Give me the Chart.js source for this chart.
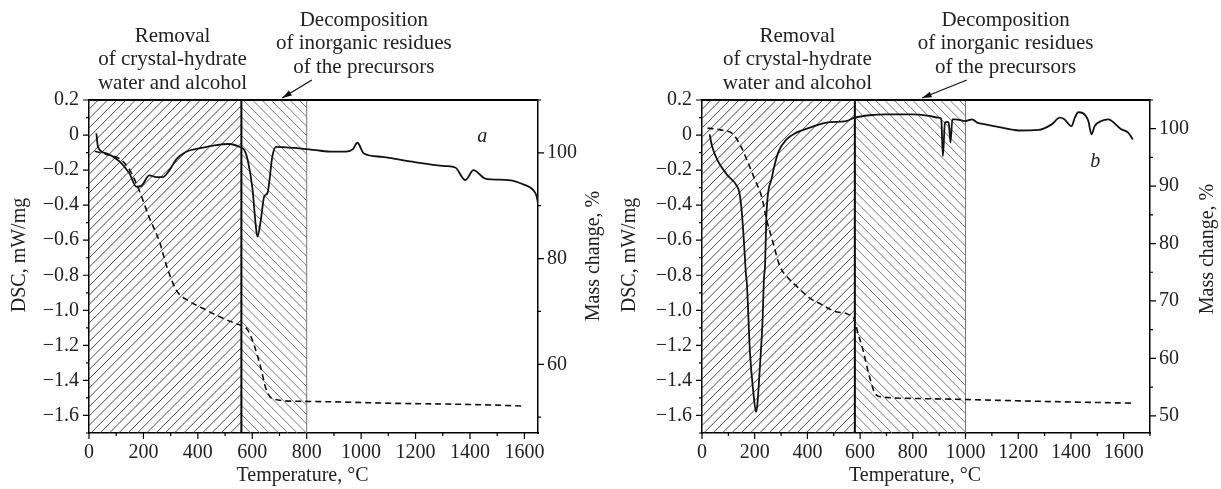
<!DOCTYPE html>
<html>
<head>
<meta charset="utf-8">
<script src="https://cdn.jsdelivr.net/npm/chart.js@4.4.1/dist/chart.umd.min.js"></script>
<style>
  body { margin: 0; background: #fff; }
  #wrap { position: relative; width: 1221px; height: 489px; }
  canvas { position: absolute; top: 0; }
</style>
</head>
<body>
<div id="wrap">
  <canvas id="grafA" width="610" height="489" style="left:0"></canvas>
  <canvas id="grafB" width="611" height="489" style="left:610px"></canvas>
</div>
<script>
// panel a: DSC (solid) and mass (dashed)
const dscTempA = [27, 33, 64, 112, 149, 174, 192, 222, 247, 271, 296, 320, 357, 406, 467, 516, 552, 571, 583, 601, 613, 619, 631, 644, 656, 674, 687, 772, 833, 894, 943, 970, 986, 1010, 1077, 1126, 1187, 1310, 1346, 1383, 1413, 1456, 1542, 1603, 1633, 1645, 1650];
const dscA = [0.01, -0.067, -0.105, -0.15, -0.22, -0.295, -0.29, -0.23, -0.24, -0.24, -0.2, -0.14, -0.095, -0.076, -0.057, -0.051, -0.067, -0.086, -0.14, -0.31, -0.52, -0.58, -0.49, -0.35, -0.33, -0.12, -0.067, -0.076, -0.086, -0.095, -0.095, -0.08, -0.044, -0.105, -0.124, -0.136, -0.152, -0.177, -0.185, -0.257, -0.2, -0.248, -0.257, -0.286, -0.314, -0.35, -0.39];
const massTempA = [21, 64, 112, 149, 186, 222, 259, 284, 320, 369, 418, 467, 540, 558, 583, 607, 632, 650, 674, 772, 894, 1139, 1400, 1603];
const massA = [100.3, 99.7, 98.9, 96.8, 92.7, 87.7, 83.2, 78.8, 74.1, 71.9, 70.6, 69.3, 67.7, 67.4, 66.5, 63.6, 59.2, 55.4, 53.5, 53.0, 52.9, 52.6, 52.4, 52.1];

// panel b
const dscTempB = [29, 38, 57, 94, 132, 142, 151, 160, 167, 170, 182, 195, 205, 210, 219, 230, 235, 239, 245, 264, 289, 321, 358, 409, 472, 547, 579, 635, 698, 798, 862, 899, 908, 914, 922, 930, 936, 943, 950, 962, 1000, 1025, 1044, 1075, 1138, 1201, 1277, 1327, 1358, 1375, 1402, 1415, 1428, 1445, 1466, 1478, 1490, 1515, 1541, 1591, 1617, 1635];
const dscB = [0.004, -0.063, -0.139, -0.225, -0.29, -0.33, -0.44, -0.63, -0.8, -0.84, -1.24, -1.47, -1.58, -1.54, -1.34, -1.05, -0.82, -0.75, -0.44, -0.25, -0.1, -0.025, 0.014, 0.042, 0.071, 0.08, 0.099, 0.113, 0.118, 0.118, 0.109, 0.099, 0.09, -0.12, 0.071, 0.075, 0.07, -0.043, 0.09, 0.09, 0.08, 0.09, 0.071, 0.061, 0.042, 0.026, 0.029, 0.061, 0.099, 0.09, 0.051, 0.1, 0.13, 0.125, 0.08, 0.004, 0.051, 0.08, 0.09, 0.033, 0.014, -0.025];
const massTempB = [21, 69, 119, 151, 170, 201, 226, 245, 270, 295, 327, 365, 409, 453, 503, 553, 578, 591, 610, 635, 660, 698, 824, 949, 1201, 1400, 1629];
const massB = [100.1, 99.8, 99.0, 96.6, 94.6, 91.1, 88.2, 84.2, 80.1, 76.1, 74.0, 72.3, 70.5, 69.4, 68.2, 67.7, 66.8, 64.5, 61.6, 56.9, 53.7, 53.2, 53.0, 52.9, 52.6, 52.4, 52.2];

// hatched zones (°C): start, boundary, end
const zonesA = [0, 560, 800];
const zonesB = [0, 580, 1000];

const textRemoval = ['Removal', 'of crystal-hydrate', 'water and alcohol'];
const textDecomp = ['Decomposition', 'of inorganic residues', 'of the precursors'];
const titleX = 'Temperature, \u00b0C';
const titleY = 'DSC, mW/mg';
const titleY1 = 'Mass change, %';

const serif = "'Liberation Serif', 'Times New Roman', serif";

function pares(xs, ys) {
  return xs.map((x, i) => ({ x: x, y: ys[i] }));
}

function fmtDsc(v) {
  const r = Math.round(v * 10) / 10;
  if (Math.round(v * 10) % 2 !== 0) return '';
  if (r === 0) return '0';
  return (r < 0 ? '\u2212' : '') + Math.abs(r).toFixed(1);
}

function hachura(ctx, x0, x1, top, bottom, dir, gap, cor) {
  ctx.save();
  ctx.beginPath();
  ctx.rect(x0, top, x1 - x0, bottom - top);
  ctx.clip();
  ctx.strokeStyle = cor;
  ctx.lineWidth = 0.9;
  const h = bottom - top;
  ctx.beginPath();
  for (let s = x0 - h; s < x1 + h; s += gap) {
    if (dir > 0) { ctx.moveTo(s, bottom); ctx.lineTo(s + h, top); }
    else { ctx.moveTo(s, top); ctx.lineTo(s + h, bottom); }
  }
  ctx.stroke();
  ctx.restore();
}

function textoVertical(ctx, txt, x, y) {
  ctx.save();
  ctx.translate(x, y);
  ctx.rotate(-Math.PI / 2);
  ctx.fillText(txt, 0, 0);
  ctx.restore();
}

const pluginFundo = {
  id: 'fundo',
  beforeDatasetsDraw(chart, args, o) {
    const { ctx, chartArea: a, scales: { x } } = chart;
    const z = o.zones.map(v => x.getPixelForValue(v));
    hachura(ctx, z[0], z[1], a.top, a.bottom, 1, 9.3, '#333');
    hachura(ctx, z[1], z[2], a.top, a.bottom, -1, 9.3, '#666');
    ctx.save();
    ctx.strokeStyle = '#000';
    ctx.lineWidth = 2;
    ctx.beginPath();
    ctx.moveTo(z[1], a.top); ctx.lineTo(z[1], a.bottom);
    ctx.stroke();
    ctx.strokeStyle = '#777';
    ctx.lineWidth = 1;
    ctx.beginPath();
    ctx.moveTo(z[2], a.top); ctx.lineTo(z[2], a.bottom);
    ctx.stroke();
    ctx.restore();
  },
  afterDraw(chart, args, o) {
    const { ctx, chartArea: a, scales } = chart;
    ctx.save();
    // top border
    ctx.strokeStyle = '#000';
    ctx.lineWidth = 2;
    ctx.beginPath();
    ctx.moveTo(a.left, a.top); ctx.lineTo(a.right, a.top);
    ctx.stroke();
    // tick marks, long where labelled
    ctx.lineWidth = 1.2;
    ctx.beginPath();
    ['x', 'y', 'y1'].forEach(id => {
      const s = scales[id];
      s.ticks.forEach((t, i) => {
        const p = s.getPixelForTick(i);
        const len = t.label === '' ? 3 : 6;
        if (id === 'x') { ctx.moveTo(p, s.top); ctx.lineTo(p, s.top + len); }
        else if (s.position === 'left') { ctx.moveTo(s.right, p); ctx.lineTo(s.right - len, p); }
        else { ctx.moveTo(s.left, p); ctx.lineTo(s.left + len, p); }
      });
    });
    ctx.stroke();
    // axis titles
    ctx.fillStyle = '#222';
    ctx.font = '20px ' + serif;
    ctx.textAlign = 'center';
    ctx.textBaseline = 'middle';
    const cy = a.top + o.titleMid;
    textoVertical(ctx, titleY, 20, a.top + 155);
    textoVertical(ctx, titleY1, o.massTitleX, cy);
    ctx.fillText(titleX, (a.left + a.right) / 2 - 11, 476);
    // annotations
    const x = scales.x;
    ctx.font = '21px ' + serif;
    const xr = x.getPixelForValue(o.removalAt);
    textRemoval.forEach((l, i) => ctx.fillText(l, xr, 36 + i * 23.5));
    const xd = x.getPixelForValue(o.decompAt);
    textDecomp.forEach((l, i) => ctx.fillText(l, xd, 20 + i * 23.5));
    // arrow
    const tx = x.getPixelForValue(o.arrowTo), ty = a.top - 2;
    const fx = x.getPixelForValue(o.arrowFrom), fy = a.top - 20;
    ctx.strokeStyle = '#111';
    ctx.lineWidth = 1.3;
    ctx.beginPath();
    ctx.moveTo(fx, fy); ctx.lineTo(tx, ty);
    ctx.stroke();
    const ang = Math.atan2(ty - fy, tx - fx);
    ctx.beginPath();
    ctx.moveTo(tx, ty);
    ctx.lineTo(tx - 10 * Math.cos(ang - 0.3), ty - 10 * Math.sin(ang - 0.3));
    ctx.lineTo(tx - 10 * Math.cos(ang + 0.3), ty - 10 * Math.sin(ang + 0.3));
    ctx.closePath();
    ctx.fillStyle = '#111';
    ctx.fill();
    // panel letter
    ctx.font = 'italic 20px ' + serif;
    ctx.fillStyle = '#222';
    ctx.fillText(o.letter, x.getPixelForValue(o.letterAt[0]), scales.y.getPixelForValue(o.letterAt[1]));
    ctx.restore();
  }
};

function criarGrafico(id, cfg) {
  const tickFont = { family: serif, size: 20 };
  new Chart(document.getElementById(id), {
    type: 'line',
    data: {
      datasets: [{
        data: pares(cfg.dscT, cfg.dsc),
        yAxisID: 'y',
        borderColor: '#111',
        borderWidth: 1.8,
        pointRadius: 0,
        cubicInterpolationMode: 'monotone'
      }, {
        data: pares(cfg.massT, cfg.mass),
        yAxisID: 'y1',
        borderColor: '#111',
        borderWidth: 1.6,
        borderDash: [6, 4],
        pointRadius: 0,
        cubicInterpolationMode: 'monotone'
      }]
    },
    options: {
      responsive: false,
      animation: false,
      layout: { padding: { top: 100, left: 0, right: 0, bottom: 0 } },
      plugins: {
        legend: { display: false },
        tooltip: { enabled: false },
        fundo: cfg.plugin
      },
      scales: {
        x: {
          type: 'linear',
          min: 0,
          max: cfg.xMax,
          border: { color: '#000', width: 1.5 },
          grid: { display: false, drawTicks: false },
          ticks: {
            stepSize: 100, autoSkip: false, includeBounds: false, maxRotation: 0,
            color: '#222', font: tickFont, padding: 8,
            callback: v => (v % 200 === 0 ? String(v) : '')
          },
          afterFit: s => { s.height = 56; }
        },
        y: {
          position: 'left',
          min: -1.7,
          max: 0.2,
          border: { color: '#000', width: 1.5 },
          grid: { display: false, drawTicks: false },
          ticks: { stepSize: 0.1, autoSkip: false, color: '#222', font: tickFont, padding: 10, callback: fmtDsc },
          afterFit: s => { s.width = cfg.leftW; }
        },
        y1: {
          position: 'right',
          min: 47,
          max: cfg.massMax,
          border: { color: '#000', width: 1.5 },
          grid: { display: false, drawTicks: false },
          ticks: {
            stepSize: cfg.massStep / 2, autoSkip: false, includeBounds: false,
            color: '#222', font: tickFont, padding: 9,
            callback: v => (v % cfg.massStep === 0 ? String(v) : '')
          },
          afterFit: s => { s.width = cfg.rightW; }
        }
      }
    },
    plugins: [pluginFundo]
  });
}

window.onload = function () {
  criarGrafico('grafA', {
    dscT: dscTempA, dsc: dscA, massT: massTempA, mass: massA,
    xMax: 1650, massMax: 110, massStep: 20, leftW: 89, rightW: 72,
    plugin: { zones: zonesA, removalAt: 307, decompAt: 1010, arrowFrom: 819, arrowTo: 710, letter: 'a', letterAt: [1445, -0.01], massTitleX: 594, titleMid: 156 }
  });
  criarGrafico('grafB', {
    dscT: dscTempB, dsc: dscB, massT: massTempB, mass: massB,
    xMax: 1700, massMax: 105, massStep: 10, leftW: 92, rightW: 71,
    plugin: { zones: zonesB, removalAt: 362, decompAt: 1152, arrowFrom: 1005, arrowTo: 835, letter: 'b', letterAt: [1492, -0.15], massTitleX: 598, titleMid: 149 }
  });
};
</script>
</body>
</html>
